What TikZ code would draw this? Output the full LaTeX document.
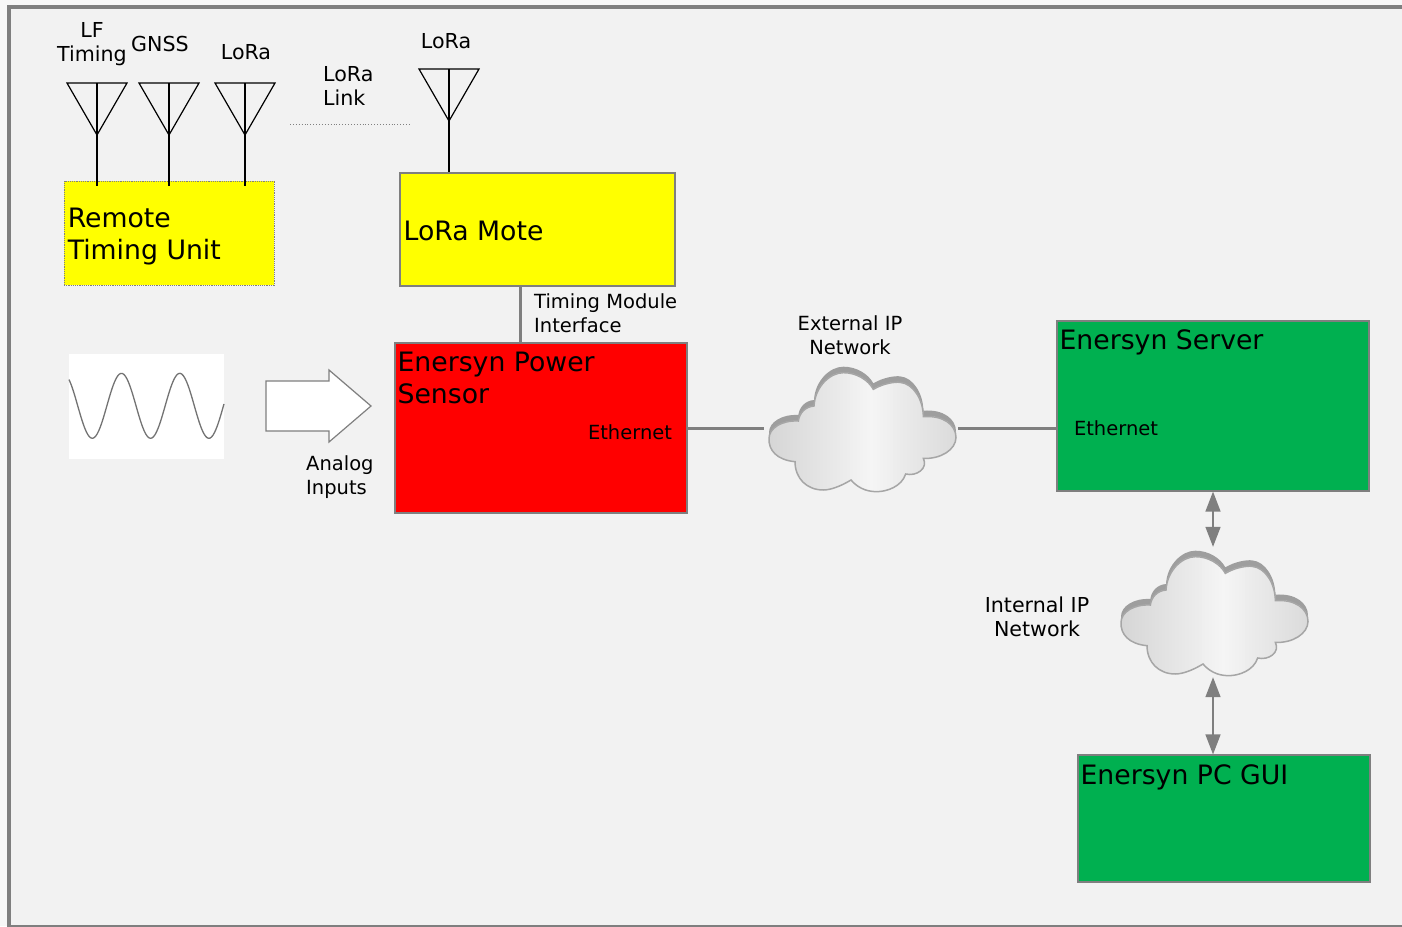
\documentclass[tikz,border=0pt]{standalone}
\usepackage{fontspec}
\setmainfont{DejaVu Sans}
\usetikzlibrary{arrows.meta,calc}

\definecolor{panelgray}{HTML}{F2F2F2}
\definecolor{linegray}{HTML}{7F7F7F}
\definecolor{cloudedge}{HTML}{A6A6A6}
\definecolor{enersyngreen}{HTML}{00B050}
\definecolor{moteyellow}{HTML}{FFFF00}

\tikzset{
	smalltxt/.style={inner sep=0pt, font=\fontsize{19.5}{24}\selectfont},
	widetxt/.style={inner sep=0pt, font=\fontsize{20.6}{24}\selectfont},
	bigtxt/.style={inner sep=0pt, font=\fontsize{26.7}{32}\selectfont, align=left},
	block/.style={draw=linegray, line width=1.2pt, inner sep=0pt},
	link/.style={draw=linegray, line width=3pt},
	duplex/.style={draw=linegray, line width=1.5pt, {Triangle[width=15pt,length=20pt]}-{Triangle[width=15pt,length=20pt]}},
	cloudslot/.style={minimum width=194pt, minimum height=130pt, inner sep=0pt},
}

\newcommand{\cloudoutline}{(165,335) .. controls (110,330) and (85,300) .. (87,265)
	.. controls (87,235) and (125,210) .. (175,213)
	.. controls (178,190) and (195,170) .. (222,168)
	.. controls (225,110) and (270,68) .. (310,68)
	.. controls (350,68) and (385,90) .. (400,118)
	.. controls (430,100) and (465,95) .. (480,97)
	.. controls (520,100) and (550,150) .. (550,200)
	.. controls (610,195) and (648,225) .. (648,262)
	.. controls (648,300) and (600,328) .. (550,325)
	.. controls (565,355) and (530,380) .. (497,372)
	.. controls (485,410) and (440,425) .. (410,425)
	.. controls (375,425) and (350,410) .. (333,390)
	.. controls (300,410) and (270,420) .. (250,420)
	.. controls (200,420) and (165,385) .. (165,335) -- cycle}

\newcommand{\netcloud}[2]{
	\begin{scope}[shift={(#1,#2)}, x=0.3333pt, y=-0.3333pt, shift={(-366,-234)}]
		\fill[black!38, yshift=6pt] \cloudoutline;
		\begin{scope}
			\clip \cloudoutline;
			% strips, each one laid over the tail of the one before
			\foreach \x in {80,90,...,650} {
				\pgfmathsetmacro{\shadepct}{4+11*abs(\x-390)/270}
				\fill[black!\shadepct] (\x,60) rectangle (660,430);
			}
		\end{scope}
		\draw[cloudedge, line width=1.5pt] \cloudoutline;
	\end{scope}
}

\begin{document}
\begin{tikzpicture}[x=1pt, y=-1pt]
	\useasboundingbox (0,0) rectangle (1402,926);
	\fill[black!3] (0,0) rectangle (1402,926);
	\draw[linegray, line width=4pt, fill=panelgray] (8.5,6.7) rectangle (1412,927);

	% boxes
	\node[block, fill=moteyellow, draw=gray, densely dotted, line width=0.8pt, minimum width=210pt, minimum height=104pt] (rtu) at (169,233) {};
	\node[block, fill=moteyellow, minimum width=275pt, minimum height=113pt] (mote) at (537.5,229.5) {};
	\node[block, fill=red, minimum width=292pt, minimum height=170pt] (power) at (541,428) {};
	\node[block, fill=enersyngreen, minimum width=312pt, minimum height=170pt] (server) at (1213,406) {};
	\node[block, fill=enersyngreen, minimum width=292pt, minimum height=127pt] (gui) at (1224,818.5) {};

	\node[bigtxt, anchor=west] (rtulbl) at ([shift={(4,4)}]rtu.west) {Remote\\Timing Unit};
	\node[bigtxt, anchor=west] (motelbl) at ([shift={(4,1)}]mote.west) {LoRa Mote};
	\node[bigtxt, anchor=north west] (powerlbl) at ([shift={(3,9)}]power.north west) {Enersyn Power\\Sensor};
	\node[bigtxt, anchor=north west] (serverlbl) at ([shift={(3,9)}]server.north west) {Enersyn Server};
	\node[bigtxt, anchor=north west] (guilbl) at ([shift={(3,10)}]gui.north west) {Enersyn PC GUI};

	% antennas
	\foreach \name/\x/\y in {lf/97/83, gnss/169/83, rtulora/245/83, motelora/449/69} {
		\coordinate (\name) at (\x,\y);
		\draw[line width=1.2pt] ($(\name)+(-30,0)$) -- ($(\name)+(30,0)$) -- ($(\name)+(0,52)$) -- cycle;
	}
	\foreach \name in {lf, gnss, rtulora}
		\draw[line width=2pt] (\name) -- ++(0,103);
	\draw[line width=2pt] (motelora) -- (motelora |- mote.north);

	\node[widetxt, align=center] (lflbl) at (92,44) {LF\\Timing};
	\node[widetxt] (gnsslbl) at (160,44) {GNSS};
	\node[widetxt] (rtuloralbl) at (246,52) {LoRa};
	\node[widetxt] (moteloralbl) at (446,41) {LoRa};
	\node[widetxt, align=left, anchor=west] (linklbl) at (323,86) {LoRa\\Link};

	\coordinate (linkstart) at (290,124);
	\coordinate (linkend) at (410,124);
	\draw[gray, dotted, line width=0.9pt] (linkstart) -- (linkend);

	% analog input
	\fill[white] (69,354) rectangle (224,459);
	\draw[black!55, line width=1.3pt, domain=69:224, variable=\x, smooth, samples=100] plot ({\x}, {405.8+32.5*cos(6.175*(\x-92.3))});
	\draw[linegray, line width=1.2pt, fill=white] (266,381) -- (329,381) -- (329,370) -- (371,406) -- (329,442) -- (329,431) -- (266,431) -- cycle;
	\node[smalltxt, align=left, anchor=west] (analoglbl) at (306,477) {Analog\\Inputs};

	% timing module interface
	\coordinate (tmi) at (520,0);
	\draw[link] (tmi |- mote.south) -- (tmi |- power.north);
	\node[smalltxt, align=left, anchor=west] (tmilbl) at (534,313) {Timing Module\\Interface};

	% networks
	\node[cloudslot] (extcloud) at (861,428) {};
	\node[cloudslot] (intcloud) at (1213,612) {};
	\netcloud{862}{428}
	\netcloud{1214}{612}
	\node[smalltxt, align=center] (extlbl) at (850,335) {External IP\\Network};
	\node[widetxt, align=center] (intlbl) at (1037,617) {Internal IP\\Network};
	\node[smalltxt] (powereth) at (630,432) {Ethernet};
	\node[smalltxt] (servereth) at (1116,428) {Ethernet};

	\draw[link] (power.east) -- (extcloud.west);
	\draw[link] (extcloud.east) -- (server.west |- extcloud.east);
	\draw[duplex] (server.south) -- (intcloud.north);
	\draw[duplex] (intcloud.south) -- (intcloud.south |- gui.north);
\end{tikzpicture}
\end{document}
